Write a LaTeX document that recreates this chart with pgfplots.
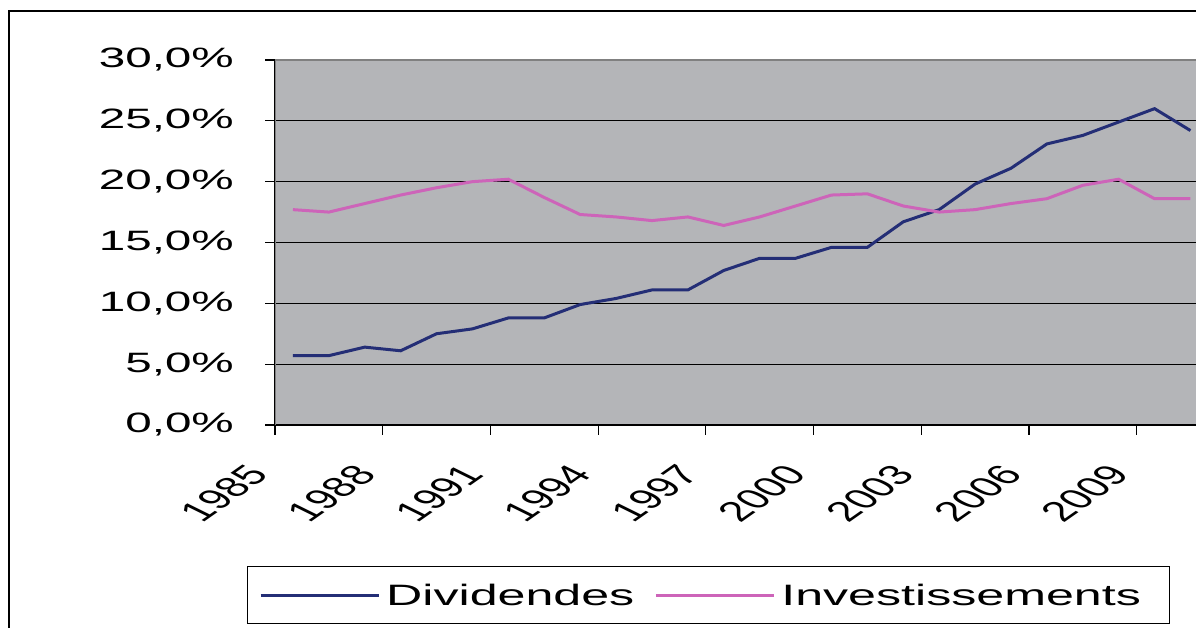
\documentclass[border=0pt]{standalone}
\usepackage{fontspec}
\setmainfont{Liberation Sans}
\newfontfamily\wide{Liberation Sans}[FakeStretch=1.7]
\usepackage{pgfplots}
\pgfplotsset{compat=1.18}
\definecolor{plotbg}{RGB}{180,181,184}
\definecolor{divblue}{RGB}{36,46,118}
\definecolor{invpink}{RGB}{205,100,185}
\begin{document}
\begin{tikzpicture}[x=1pt,y=1pt]
\path[use as bounding box] (0,0) rectangle (1196,628);
\draw[line width=1.5pt] (9,-20) -- (9,617) -- (1250,617);
\begin{axis}[
  at={(275pt,203pt)}, anchor=south west,
  scale only axis, width=933.4pt, height=365pt,
  xmin=-0.5, xmax=25.5, ymin=0, ymax=30,
  axis x line*=bottom, axis y line*=left,
  axis line style={line width=1.5pt, black, -},
  axis background/.style={fill=plotbg},
  xtick={-0.5,2.5,...,23.5},
  xticklabels={1985,1988,1991,1994,1997,2000,2003,2006,2009},
  ytick={0,5,...,30},
  ymajorgrids, grid style={black, line width=1.2pt},
  tick align=outside, major tick length=10pt,
  tick style={black, line width=1.2pt},
  /pgf/number format/assume math mode=true,
  yticklabel={\pgfmathprintnumber[fixed,fixed zerofill,precision=1,use comma]{\tick}\%},
  yticklabel style={font=\wide\fontsize{28}{32}\selectfont, anchor=east, inner sep=0pt, xshift=-31pt},
  xticklabel style={font=\fontsize{28}{32}\selectfont, inner sep=0pt, xshift=-17pt, yshift=-34pt, xscale=1.7, rotate=50, anchor=east},
  legend columns=2,
  legend style={at={(0.4645,-0.466)}, anchor=center, draw=black, line width=1pt,
    font=\wide\fontsize{29.5}{34}\selectfont, inner xsep=12pt, inner ysep=15pt,
    /tikz/every even column/.append style={column sep=18pt}},
  legend image code/.code={\draw[#1] (0pt,0pt) -- (118pt,0pt);},
]
\draw[gray, line width=2.5pt] (rel axis cs:0,0) -- (rel axis cs:0,1) -- (rel axis cs:1,1);
\addplot[divblue, line width=3pt, sharp plot] coordinates {
(0,5.7) (1,5.7) (2,6.4) (3,6.1) (4,7.5) (5,7.9) (6,8.8) (7,8.8) (8,9.9) (9,10.4)
(10,11.1) (11,11.1) (12,12.7) (13,13.7) (14,13.7) (15,14.6) (16,14.6) (17,16.7)
(18,17.7) (19,19.8) (20,21.1) (21,23.1) (22,23.8) (23,24.9) (24,26.0) (25,24.2)};
\addlegendentry{\hspace*{4pt}Dividendes}
\addplot[invpink, line width=3pt, sharp plot] coordinates {
(0,17.7) (1,17.5) (2,18.2) (3,18.9) (4,19.5) (5,20.0) (6,20.2) (7,18.7) (8,17.3) (9,17.1)
(10,16.8) (11,17.1) (12,16.4) (13,17.1) (14,18.0) (15,18.9) (16,19.0) (17,18.0)
(18,17.5) (19,17.7) (20,18.2) (21,18.6) (22,19.7) (23,20.2) (24,18.6) (25,18.6)};
\addlegendentry{\hspace*{4pt}Investissements\rule{15pt}{0pt}}
\end{axis}
\end{tikzpicture}
\end{document}
